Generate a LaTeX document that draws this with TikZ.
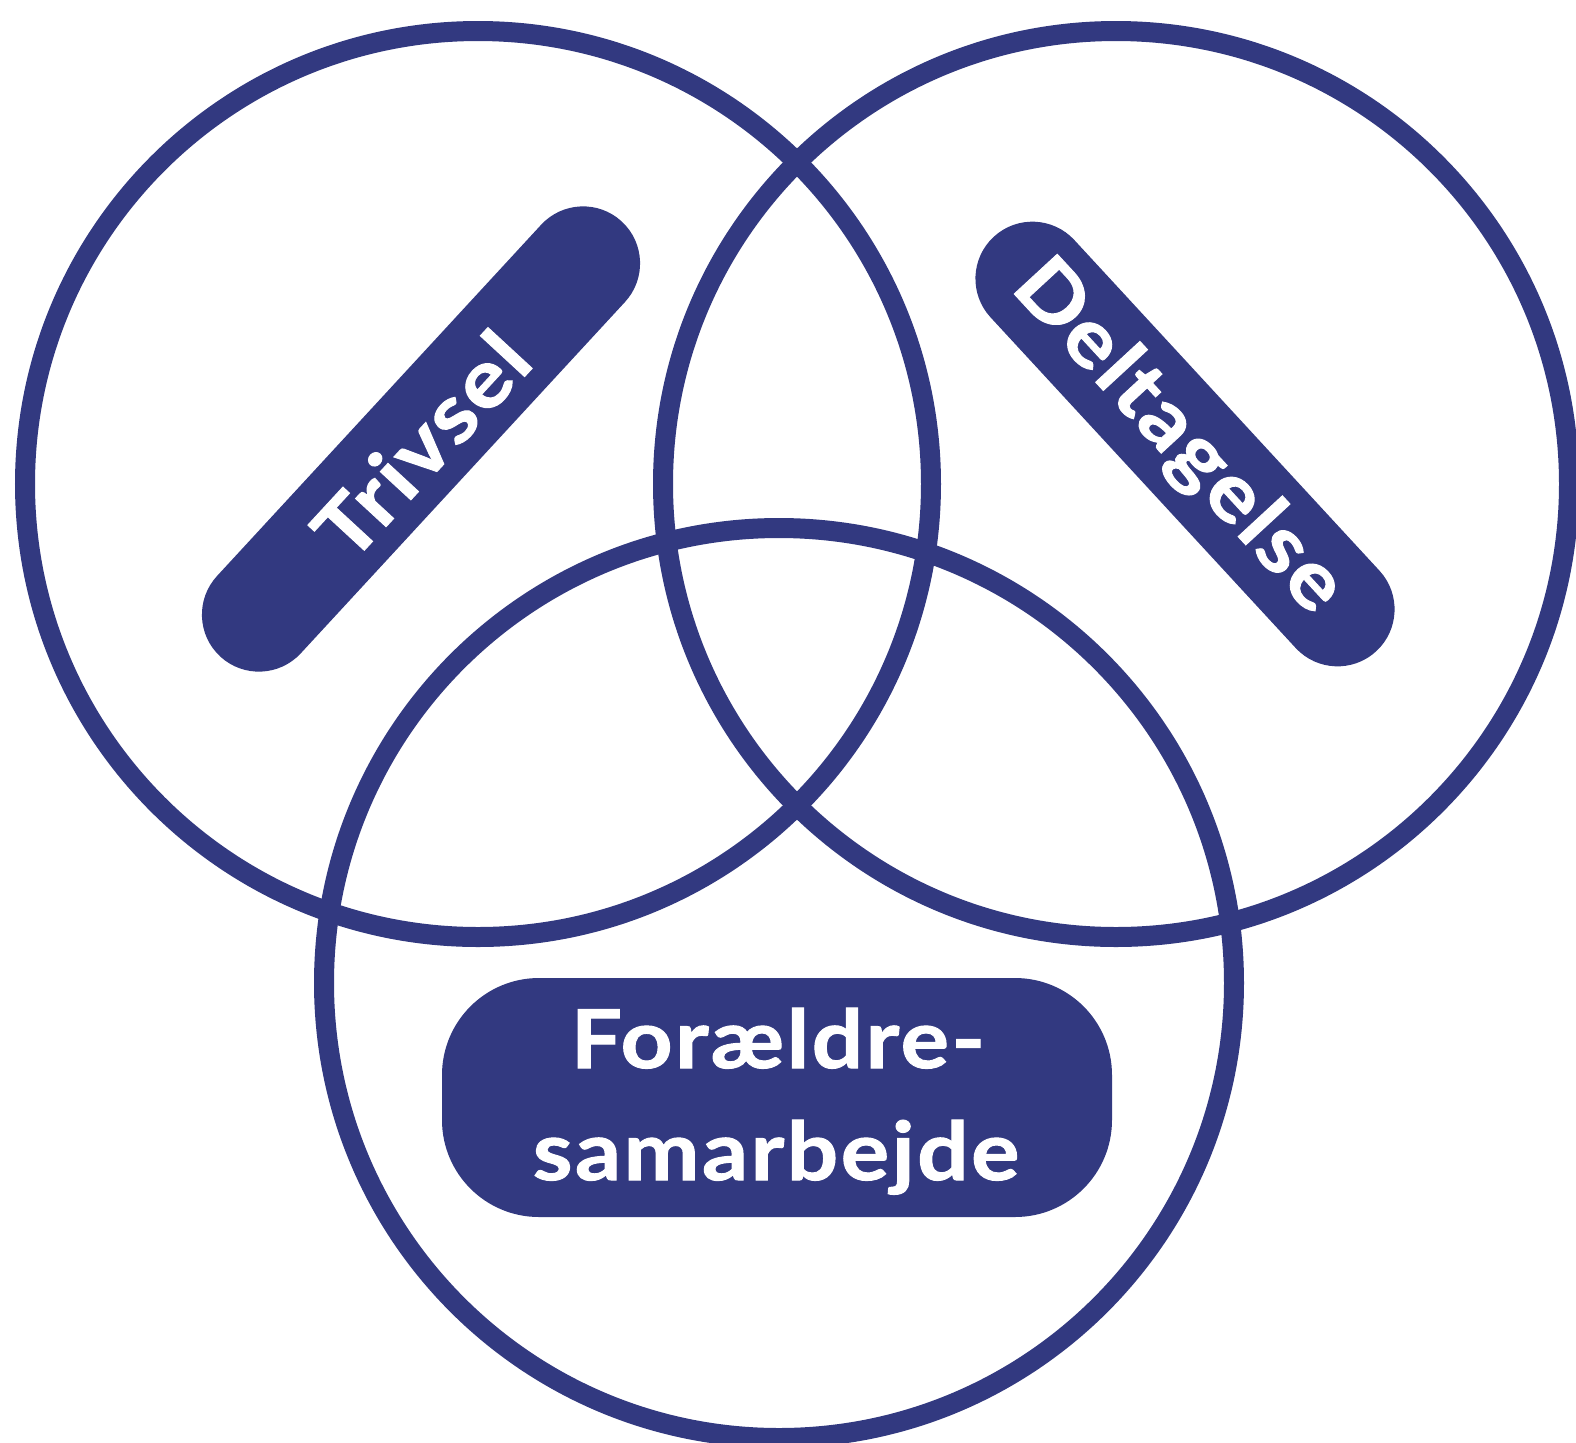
\documentclass[tikz,border=0pt]{standalone}
\usepackage{fontspec}
\newfontfamily\lblfont{Lato}[FakeStretch=1.12,LetterSpace=3,BoldFeatures={FakeBold=1.2}]
\definecolor{navy}{RGB}{50,57,128}
\begin{document}
\begin{tikzpicture}[x=0.5pt,y=-0.5pt,
  ring/.style={draw=navy,line width=10pt},
  pill/.style={fill=navy,draw=none,minimum height=57pt,minimum width=296pt,rounded corners=28.5pt,inner sep=0pt},
  lbl/.style={text=white,font=\lblfont\bfseries\fontsize{40.5}{56}\selectfont,inner sep=0pt}]
\useasboundingbox (0,0) rectangle (1576,1442);
\clip (0,0) rectangle (1576,1442);
\fill[white] (0,0) rectangle (1576,1442);
% circles
\node[ring,circle,minimum size=453pt,inner sep=0pt] (cl) at (478,484) {};
\node[ring,circle,minimum size=453pt,inner sep=0pt] (cr) at (1116,484) {};
\node[ring,circle,minimum size=455pt,inner sep=0pt] (cb) at (779,983) {};
% pills
\node[pill,rotate=47.3] (ptriv) at (421,439) {};
\node[pill,rotate=-47.3,minimum width=282pt] (pdelt) at (1185,444) {};
\node[lbl,anchor=base,rotate=47.3] (ttriv) at (443,465) {Trivsel};
\node[lbl,anchor=base,rotate=-47.3] (tdelt) at (1161,453) {Deltagelse};
% bottom box
\node[fill=navy,minimum width=335pt,minimum height=119.5pt,rounded corners=48.5pt,inner sep=0pt] (box) at (777,1097.5) {};
\node[lbl,anchor=base] (tbox1) at (778,1068) {Forældre-};
\node[lbl,anchor=base] (tbox2) at (776,1180) {samarbejde};
\end{tikzpicture}
\end{document}
